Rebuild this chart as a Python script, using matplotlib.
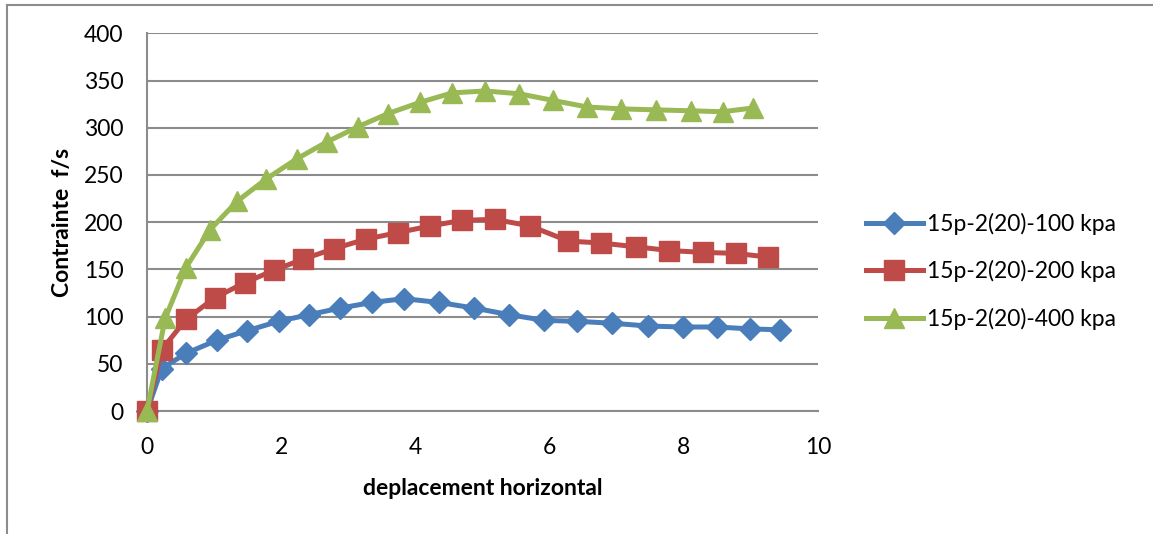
import matplotlib.pyplot as plt
from matplotlib.lines import Line2D

plt.rcParams['font.family'] = ['Lato', 'DejaVu Sans']

# data
x_100 = [0, 0.22, 0.58, 1.04, 1.49, 1.96, 2.41, 2.88, 3.35, 3.83, 4.35, 4.88,
         5.40, 5.92, 6.41, 6.93, 7.47, 7.98, 8.49, 8.99, 9.44]
y_100 = [0, 45, 61, 75, 85, 95, 102, 109, 115, 119, 115, 109,
         102, 96, 95, 93, 90, 89, 89, 87, 86]

x_200 = [0, 0.22, 0.58, 1.01, 1.46, 1.89, 2.33, 2.79, 3.26, 3.74, 4.22, 4.70,
         5.18, 5.71, 6.28, 6.76, 7.28, 7.78, 8.29, 8.77, 9.26]
y_200 = [0, 65, 97, 120, 136, 149, 161, 172, 182, 189, 196, 202,
         203, 196, 180, 178, 174, 170, 168, 167, 163]

x_400 = [0, 0.27, 0.58, 0.94, 1.34, 1.78, 2.23, 2.68, 3.14, 3.59, 4.07, 4.55,
         5.04, 5.55, 6.05, 6.56, 7.07, 7.58, 8.10, 8.58, 9.03]
y_400 = [0, 98, 152, 192, 222, 246, 267, 285, 301, 315, 327, 337,
         339, 336, 329, 322, 320, 319, 318, 317, 321]

labels = ['15p-2(20)-100 kpa', '15p-2(20)-200 kpa', '15p-2(20)-400 kpa']
colors = ['#4a7ebb', '#be4b48', '#98b954']
markers = ['D', 's', '^']
msizes = [11, 14, 15]

fig = plt.figure(figsize=(11.53, 5.34), dpi=100)
ax = fig.add_axes([0.1275, 0.2303, 0.582, 0.7072])

series = [(x_100, y_100), (x_200, y_200), (x_400, y_400)]
for (xs, ys), lab, c, m, ms in zip(series, labels, colors, markers, msizes):
    ax.plot(xs, ys, color=c, lw=3.6, marker=m, markersize=ms, label=lab,
            markeredgecolor=c, clip_on=False, zorder=3)

ax.set_xlim(0, 10)
ax.set_ylim(0, 400)
ax.set_xticks(range(0, 11, 2))
ax.set_yticks(range(0, 401, 50))
ax.yaxis.grid(True, color='#8c8c8c', lw=1.5)
ax.set_axisbelow(True)
ax.tick_params(length=0, labelsize=16.5)
ax.tick_params(axis='x', pad=19)
ax.tick_params(axis='y', pad=17)
for s in ['top', 'right']:
    ax.spines[s].set_visible(False)
for s in ['left', 'bottom']:
    ax.spines[s].set_color('#8c8c8c')
    ax.spines[s].set_linewidth(1.5)

ax.set_xlabel('deplacement horizontal', fontsize=16.5, fontweight='bold', labelpad=14)
ax.set_ylabel('Contrainte  f/s', fontsize=16.5, fontweight='bold', labelpad=8)

handles = [Line2D([], [], color=c, lw=3.6, marker=m, markersize=ms)
           for c, m, ms in zip(colors, markers, msizes)]
fig.legend(handles, labels, loc='center left', bbox_to_anchor=(0.733, 0.492),
           frameon=False, fontsize=16.5, handlelength=2.5, handletextpad=0.15,
           labelspacing=1.1)

# outer chart frame (only top and left edges visible)
fig.add_artist(Line2D([0.0065, 1.0], [0.99, 0.99], color='#8c8c8c', lw=1.5,
                      transform=fig.transFigure))
fig.add_artist(Line2D([0.0065, 0.0065], [0.0, 0.99], color='#8c8c8c', lw=1.5,
                      transform=fig.transFigure))

fig.savefig('out.png', dpi=100)
